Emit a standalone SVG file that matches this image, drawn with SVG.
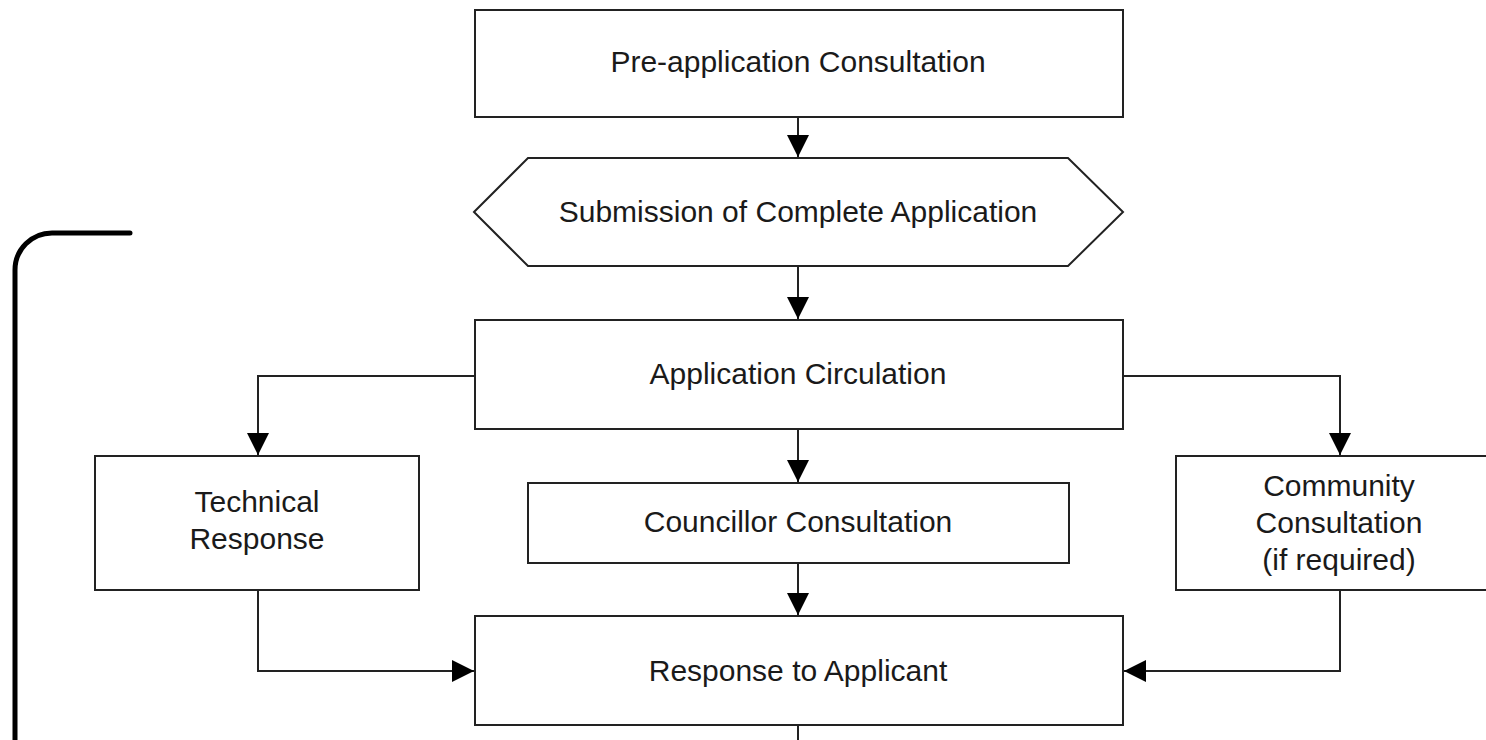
<svg xmlns="http://www.w3.org/2000/svg" width="1486" height="740" viewBox="0 0 1486 740">
<style>
.box{fill:#fff;stroke:#222;stroke-width:2}
.t{font-family:"Liberation Sans",Arial,sans-serif;font-size:30px;fill:#1a1a1a;text-anchor:middle}
.c{fill:none;stroke:#222;stroke-width:2}
</style>
<defs>
<marker id="ah" markerUnits="userSpaceOnUse" markerWidth="24" markerHeight="24" viewBox="0 0 24 24" refX="22" refY="12" orient="auto">
<path d="M0,1 L22,12 L0,23 Z" fill="#000"/>
</marker>
</defs>
<rect width="1486" height="740" fill="#fff"/>
<g id="connectors">
<line class="c" x1="798" y1="117" x2="798" y2="157" marker-end="url(#ah)"/>
<line class="c" x1="798" y1="266" x2="798" y2="319" marker-end="url(#ah)"/>
<polyline class="c" points="475,376 258,376 258,455" marker-end="url(#ah)"/>
<polyline class="c" points="1123,376 1340,376 1340,455" marker-end="url(#ah)"/>
<line class="c" x1="798" y1="429" x2="798" y2="482" marker-end="url(#ah)"/>
<line class="c" x1="798" y1="563" x2="798" y2="615" marker-end="url(#ah)"/>
<polyline class="c" points="258,590 258,671 474,671" marker-end="url(#ah)"/>
<polyline class="c" points="1340,590 1340,671 1124,671" marker-end="url(#ah)"/>
<line class="c" x1="798" y1="725" x2="798" y2="745"/>
<path d="M15,745 L15,270 A37,37 0 0 1 52,233 L130,233" fill="none" stroke="#000" stroke-width="5" stroke-linecap="round"/>
</g>
<g id="pre">
<rect class="box" x="475" y="10" width="648" height="107"/>
<text class="t" x="798" y="72">Pre-application Consultation</text>
</g>
<g id="submission">
<polygon class="box" points="474,212 528,158 1068,158 1123,212 1068,266 528,266"/>
<text class="t" x="798" y="222">Submission of Complete Application</text>
</g>
<g id="circulation">
<rect class="box" x="475" y="320" width="648" height="109"/>
<text class="t" x="798" y="384">Application Circulation</text>
</g>
<g id="technical">
<rect class="box" x="95" y="456" width="324" height="134"/>
<text class="t" x="257" y="512">Technical</text>
<text class="t" x="257" y="549">Response</text>
</g>
<g id="councillor">
<rect class="box" x="528" y="483" width="541" height="80"/>
<text class="t" x="798" y="532">Councillor Consultation</text>
</g>
<g id="community">
<rect class="box" x="1176" y="456" width="330" height="134"/>
<text class="t" x="1339" y="496">Community</text>
<text class="t" x="1339" y="533">Consultation</text>
<text class="t" x="1339" y="570">(if required)</text>
</g>
<g id="response">
<rect class="box" x="475" y="616" width="648" height="109"/>
<text class="t" x="798" y="681">Response to Applicant</text>
</g>
</svg>
